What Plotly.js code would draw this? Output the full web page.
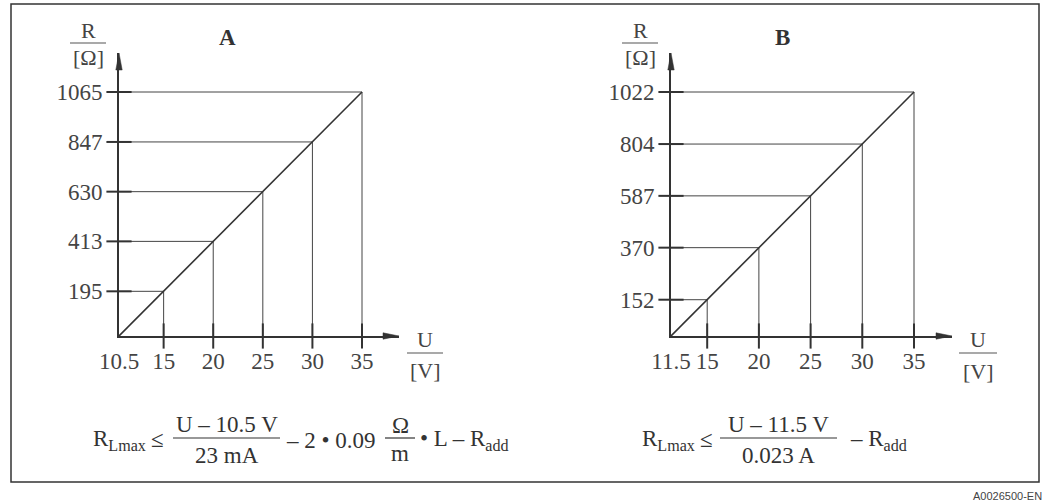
<!DOCTYPE html>
<html>
<head>
<meta charset="utf-8">
<script src="https://cdn.plot.ly/plotly-3.0.1.min.js"></script>
<style>html,body{margin:0;padding:0;background:#fff;}#chart{width:1045px;height:502px;}</style>
</head>
<body>
<div id="chart"></div>
<script>
// ---- data ----
const voltageA = [10.5, 15, 20, 25, 30, 35];       // U [V], panel A
const resistA  = [0, 195, 413, 630, 847, 1065];     // R [Ohm], panel A
const voltageB = [11.5, 15, 20, 25, 30, 35];       // U [V], panel B
const resistB  = [0, 152, 370, 587, 804, 1022];     // R [Ohm], panel B
const panelLabels = ['A', 'B'];

// ---- layout helpers ----
const W = 1045, H = 502;
const px = x => x / W;
const py = y => 1 - y / H;
const INK = '#333';
const SERIF = 'Liberation Serif, Times New Roman, serif';
const FS = 23;

// pixel geometry of each panel (origin, position of last value, arrow tip)
const geo = [
  {ox: 119, oy: 336, lastX: 362, lastY: 92, tipX: 399, tipY: 53},
  {ox: 671, oy: 336, lastX: 914, lastY: 92, tipX: 952, tipY: 53}
];

const panels = [
  {u: voltageA, r: resistA},
  {u: voltageB, r: resistB}
];

const traces = [];
const layout = {
  width: W, height: H, autosize: false,
  margin: {l: 0, r: 0, t: 0, b: 0, pad: 0},
  paper_bgcolor: '#fff', plot_bgcolor: 'rgba(0,0,0,0)',
  showlegend: false,
  font: {family: SERIF, color: INK, size: FS},
  shapes: [], annotations: []
};

panels.forEach((p, k) => {
  const g = geo[k];
  const xa = k === 0 ? 'x' : 'x2';
  const ya = k === 0 ? 'y' : 'y2';
  const n = p.u.length;
  const u0 = p.u[0], uN = p.u[n - 1], rN = p.r[n - 1];

  // guide lines: horizontal to R axis, vertical to U axis
  const gx = [], gy = [];
  for (let i = 1; i < n; i++) {
    gx.push(u0, p.u[i], null, p.u[i], p.u[i], null);
    gy.push(p.r[i], p.r[i], null, 0, p.r[i], null);
  }
  traces.push({x: gx, y: gy, xaxis: xa, yaxis: ya, mode: 'lines', type: 'scatter',
    line: {color: '#444', width: 1}, hoverinfo: 'skip', cliponaxis: false});

  // characteristic line
  traces.push({x: p.u, y: p.r, xaxis: xa, yaxis: ya, mode: 'lines', type: 'scatter',
    line: {color: INK, width: 1.6}, hoverinfo: 'skip', cliponaxis: false});

  // crossing tick marks on the U axis
  traces.push({x: p.u.slice(1), y: p.u.slice(1).map(() => 0), xaxis: xa, yaxis: ya,
    mode: 'markers', type: 'scatter', cliponaxis: false, hoverinfo: 'skip',
    marker: {symbol: 'line-ns', size: 18, color: INK, line: {color: INK, width: 2}}});
  // crossing tick marks on the R axis
  traces.push({x: p.r.slice(1).map(() => u0), y: p.r.slice(1), xaxis: xa, yaxis: ya,
    mode: 'markers', type: 'scatter', cliponaxis: false, hoverinfo: 'skip',
    marker: {symbol: 'line-ew', size: 18, color: INK, line: {color: INK, width: 2}}});

  const xEnd = u0 + (uN - u0) * (g.tipX - g.ox) / (g.lastX - g.ox);
  const yEnd = rN * (g.oy - g.tipY) / (g.oy - g.lastY);

  const axCommon = {
    showgrid: false, zeroline: false, showline: true, linewidth: 2, linecolor: INK,
    ticks: 'outside', tickcolor: 'rgba(0,0,0,0)', tickmode: 'array',
    tickfont: {family: SERIF, size: FS, color: '#444'}, fixedrange: true
  };
  layout[k === 0 ? 'xaxis' : 'xaxis2'] = Object.assign({}, axCommon, {
    domain: [px(g.ox), px(g.tipX)], range: [u0, xEnd], anchor: ya,
    tickvals: p.u, ticktext: p.u.map(String), ticklen: 3
  });
  layout[k === 0 ? 'yaxis' : 'yaxis2'] = Object.assign({}, axCommon, {
    domain: [py(g.oy), py(g.tipY)], range: [0, yEnd], anchor: xa,
    tickvals: p.r.slice(1), ticktext: p.r.slice(1).map(String), ticklen: 10
  });

  // arrow heads
  layout.shapes.push({type: 'path', xref: 'paper', yref: 'paper', layer: 'above',
    path: `M${px(g.tipX)},${py(g.oy)} L${px(g.tipX - 16)},${py(g.oy - 3.2)} L${px(g.tipX - 16)},${py(g.oy + 3.2)} Z`,
    fillcolor: INK, line: {color: INK, width: 0.5}});
  layout.shapes.push({type: 'path', xref: 'paper', yref: 'paper', layer: 'above',
    path: `M${px(g.ox)},${py(g.tipY)} L${px(g.ox - 3.2)},${py(g.tipY + 17)} L${px(g.ox + 3.2)},${py(g.tipY + 17)} Z`,
    fillcolor: INK, line: {color: INK, width: 0.5}});

  // panel label
  layout.annotations.push({text: '<b>' + panelLabels[k] + '</b>', xref: 'paper', yref: 'paper',
    x: px(k === 0 ? 227 : 782), y: py(37), xanchor: 'center', yanchor: 'middle', showarrow: false,
    font: {family: SERIF, size: 23, color: INK}});
});

// axis titles as fractions  R/[Ω] and U/[V]
function fracTitle(cx, yTop, yBar, yBot, halfW, top, bottom) {
  layout.annotations.push({text: top, xref: 'paper', yref: 'paper', x: px(cx), y: py(yTop),
    xanchor: 'center', yanchor: 'middle', showarrow: false, font: {family: SERIF, size: 22, color: '#444'}});
  layout.annotations.push({text: bottom, xref: 'paper', yref: 'paper', x: px(cx), y: py(yBot),
    xanchor: 'center', yanchor: 'middle', showarrow: false, font: {family: SERIF, size: 22, color: '#444'}});
  layout.shapes.push({type: 'line', xref: 'paper', yref: 'paper', x0: px(cx - halfW), x1: px(cx + halfW),
    y0: py(yBar), y1: py(yBar), line: {color: '#555', width: 1.2}});
}
fracTitle(88, 31, 43, 57, 18, 'R', '[Ω]');
fracTitle(640, 31, 43, 57, 18, 'R', '[Ω]');
fracTitle(425, 339, 353, 370, 18, 'U', '[V]');
fracTitle(978, 339, 353, 371, 19, 'U', '[V]');

// formulas
function txt(t, x, y, anchor, size) {
  layout.annotations.push({text: t, xref: 'paper', yref: 'paper', x: px(x), y: py(y),
    xanchor: anchor, yanchor: 'middle', showarrow: false,
    font: {family: SERIF, size: size || FS, color: INK}});
}
function bar(x0, x1, y) {
  layout.shapes.push({type: 'line', xref: 'paper', yref: 'paper', x0: px(x0), x1: px(x1),
    y0: py(y), y1: py(y), line: {color: INK, width: 1.2}});
}
// A
txt('R<sub>Lmax</sub>', 148, 440, 'right');
txt('≤', 157, 439, 'center');
txt('U – 10.5 V', 227, 424, 'center');
bar(173, 280, 438);
txt('23 mA', 227, 455, 'center');
txt('– 2 • 0.09', 284, 440, 'left');
txt('Ω', 400, 425, 'center');
bar(385, 415, 438);
txt('m', 400, 453, 'center');
txt('• L – R<sub>add</sub>', 418, 440, 'left');
// B
txt('R<sub>Lmax</sub>', 697, 440, 'right');
txt('≤', 706, 439, 'center');
txt('U – 11.5 V', 778, 424, 'center');
bar(720, 837, 438);
txt('0.023 A', 778, 455, 'center');
txt('– R<sub>add</sub>', 848, 440, 'left');

// frame and reference code
layout.shapes.push({type: 'rect', xref: 'paper', yref: 'paper', x0: px(11), x1: px(1039), y0: py(482), y1: py(4),
  line: {color: INK, width: 1.5}, fillcolor: 'rgba(0,0,0,0)', layer: 'below'});
layout.annotations.push({text: 'A0026500-EN', xref: 'paper', yref: 'paper', x: px(1044), y: py(496),
  xanchor: 'right', yanchor: 'middle', showarrow: false,
  font: {family: 'Liberation Sans, Arial, sans-serif', size: 11, color: '#444'}});

Plotly.newPlot('chart', traces, layout, {displayModeBar: false, staticPlot: true});
</script>
</body>
</html>
